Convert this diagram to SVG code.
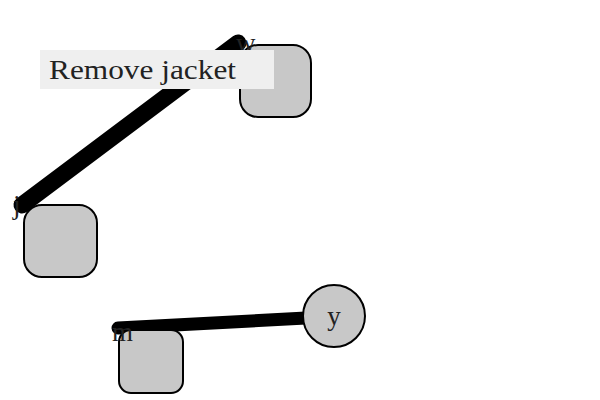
<svg xmlns="http://www.w3.org/2000/svg" width="600" height="400" viewBox="0 0 600 400">
<style>
.node{fill:#c8c8c8;stroke:#000;stroke-width:2}
.lbl{font-family:"Liberation Serif","DejaVu Serif",serif;font-size:27px;fill:#222}
.edge{stroke:#000;stroke-linecap:round;fill:none}
</style>
<rect width="600" height="400" fill="#fff"/>
<g id="connectors">
<line class="edge" x1="22" y1="205" x2="238" y2="43" stroke-width="17"/>
<line class="edge" x1="118" y1="328" x2="306" y2="318" stroke-width="13"/>
</g>
<g id="node-w">
<rect class="node" x="240" y="45" width="71" height="72" rx="18"/>
<text class="lbl" x="236" y="52">w</text>
</g>
<g id="node-j">
<rect class="node" x="24" y="205" width="73" height="72" rx="18"/>
<text class="lbl" x="13" y="214">j</text>
</g>
<g id="node-m">
<rect class="node" x="119" y="330" width="64" height="63" rx="12"/>
<text class="lbl" x="112" y="341">m</text>
</g>
<g id="node-y">
<circle class="node" cx="334" cy="316" r="31"/>
<text class="lbl" x="334" y="325" text-anchor="middle">y</text>
</g>
<g id="label-remove-jacket">
<rect x="40" y="50" width="234" height="39" fill="#efefef"/>
<text class="lbl" x="49" y="79" font-size="29" textLength="187" lengthAdjust="spacingAndGlyphs">Remove jacket</text>
</g>
</svg>
